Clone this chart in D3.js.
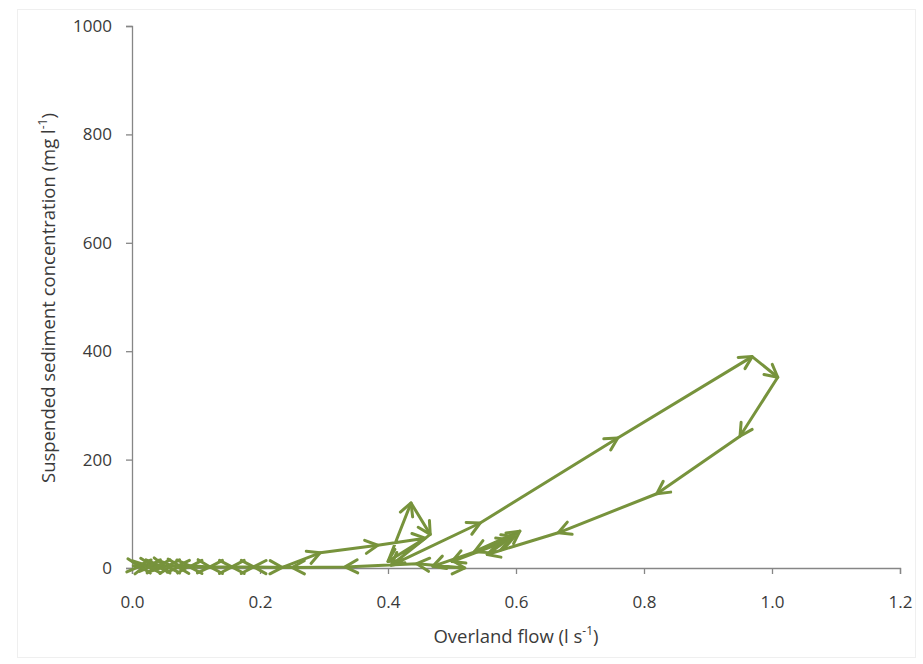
<!DOCTYPE html>
<html><head><meta charset="utf-8">
<script src="https://cdn.jsdelivr.net/npm/d3@7"></script>
<style>body{margin:0;background:#fff}svg{display:block}text{font-family:"Open Sans",sans-serif;fill:#3a3a3a}</style>
</head><body><svg id="c" width="923" height="664"></svg>
<script>
// Overland flow (l s-1), in the order of the event
const flow = [0.002,0.012,0.022,0.032,0.042,0.052,0.062,0.075,0.090,0.122,0.156,0.190,0.235,0.294,0.384,0.458,0.400,0.436,0.466,0.405,0.544,0.759,0.969,1.009,0.950,0.820,0.666,0.555,0.606,0.535,0.598,0.500,0.590,0.470,0.520,0.445,0.333,0.250,0.190,0.156,0.122,0.090,0.070,0.055,0.040,0.025,0.010];
// Suspended sediment concentration (mg l-1)
const ssc  = [4,3,5,4,5,3,4,3,4,2,2,2,1,28,42,55,12,120,62,5,83,240,390,352,243,137,65,25,68,30,58,12,52,3,0,8,2,1,2,2,2,2,3,3,3,3,4];
const xTicks = [0,0.2,0.4,0.6,0.8,1.0,1.2];
const yTicks = [0,200,400,600,800,1000];

const svg = d3.select("#c");
const x = d3.scaleLinear().domain([0,1.2]).range([132,900]);
const y = d3.scaleLinear().domain([0,1000]).range([568,26]);
const green = "#77933c", axisCol = "#868686";

svg.append("rect").attr("x",17.5).attr("y",9.5).attr("width",898).attr("height",648)
  .attr("fill","none").attr("stroke","#efefef");

const xa = svg.append("g").attr("transform","translate(0,568)")
  .call(d3.axisBottom(x).tickValues(xTicks).tickFormat(d3.format(".1f")).tickSizeOuter(0).tickSize(6).tickPadding(22));
const ya = svg.append("g").attr("transform","translate(132,0)")
  .call(d3.axisLeft(y).tickValues(yTicks).tickFormat(d3.format("d")).tickSizeOuter(0).tickSize(6).tickPadding(14));
[xa,ya].forEach(a=>{
  a.selectAll("path,line").attr("stroke",axisCol).attr("stroke-width",1.3);
  a.selectAll("text").attr("font-family","Open Sans").attr("font-size",17).attr("fill","#3a3a3a");
});

const pts = flow.map((f,i)=>[x(f),y(ssc[i])]);
svg.append("path").attr("d",d3.line()(pts)).attr("fill","none")
  .attr("stroke",green).attr("stroke-width",3).attr("stroke-linejoin","round").attr("stroke-linecap","round");

const arm = 14, half = 28*Math.PI/180;
for(let i=1;i<pts.length;i++){
  const [x0,y0]=pts[i-1],[x1,y1]=pts[i];
  const a = Math.atan2(y1-y0,x1-x0);
  const p1=[x1-arm*Math.cos(a-half), y1-arm*Math.sin(a-half)];
  const p2=[x1-arm*Math.cos(a+half), y1-arm*Math.sin(a+half)];
  svg.append("path").attr("d",d3.line()([p1,[x1,y1],p2])).attr("fill","none")
    .attr("stroke",green).attr("stroke-width",3).attr("stroke-linejoin","round").attr("stroke-linecap","round");
}

const xt = svg.append("text").attr("x",516).attr("y",643).attr("text-anchor","middle").attr("font-size",18.5);
xt.append("tspan").text("Overland flow (l s");
xt.append("tspan").attr("font-size",12).attr("dy",-8).text("-1");
xt.append("tspan").attr("dy",8).text(")");

const yt = svg.append("text").attr("transform","translate(55,298) rotate(-90)").attr("text-anchor","middle").attr("font-size",18.5);
yt.append("tspan").text("Suspended sediment concentration (mg l");
yt.append("tspan").attr("font-size",12).attr("dy",-8).text("-1");
yt.append("tspan").attr("dy",8).text(")");
</script></body></html>
